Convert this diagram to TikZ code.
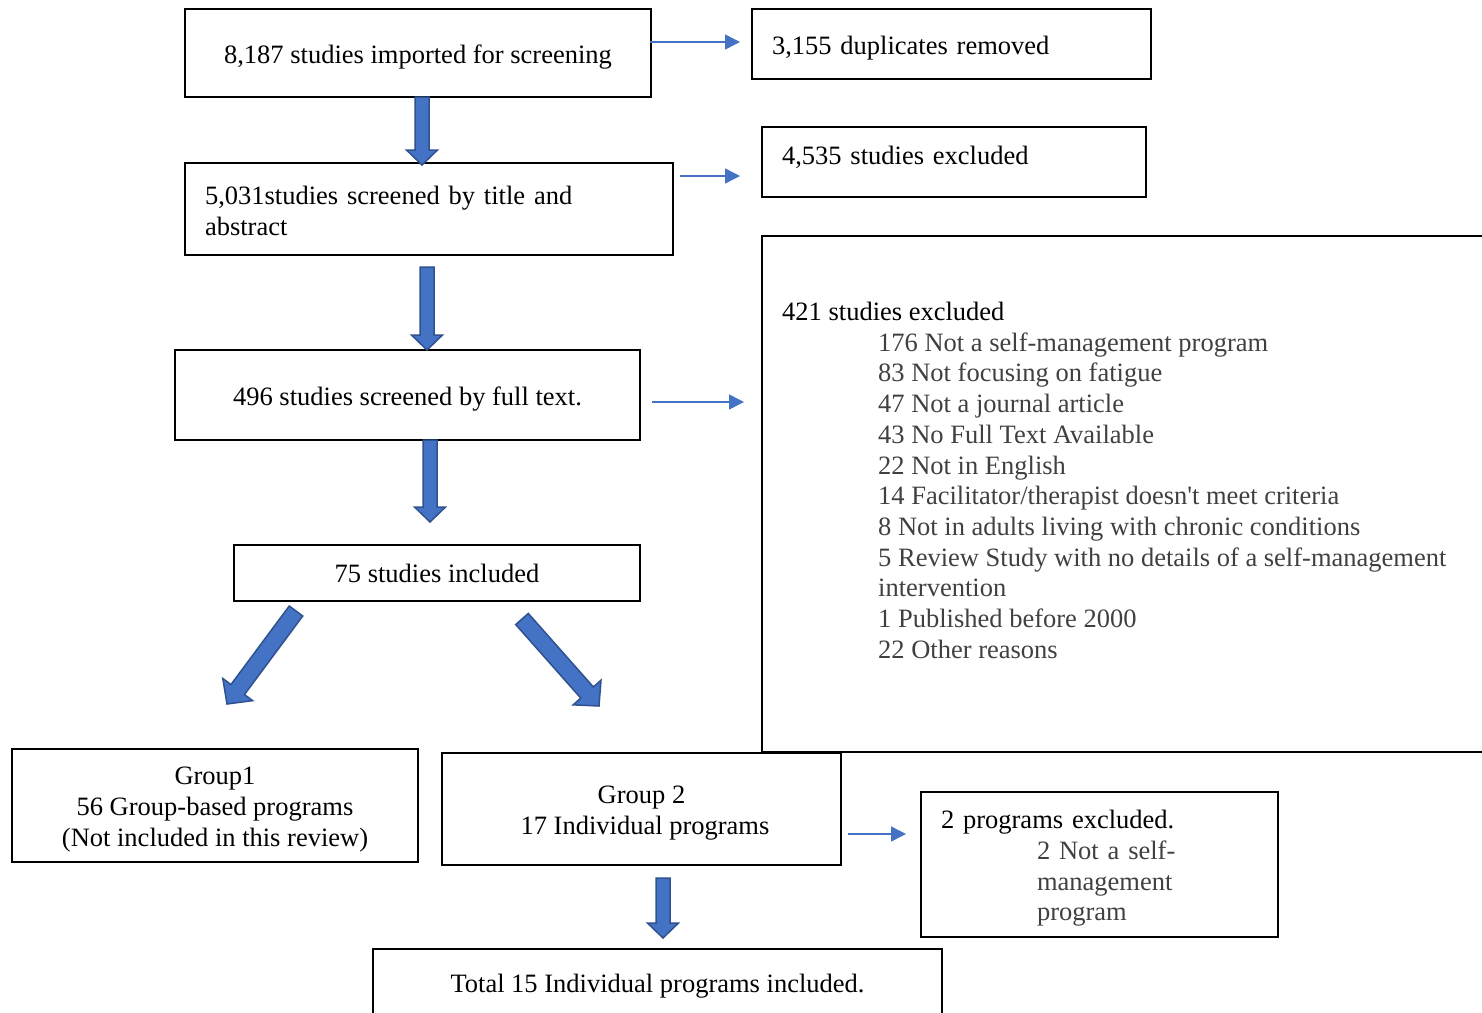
\documentclass[tikz,border=0pt]{standalone}
\usepackage{fontspec}
\setmainfont{Liberation Serif}[Ligatures=TeXOff]
\usetikzlibrary{arrows.meta,calc}
\definecolor{arrowblue}{HTML}{4472C4}
\definecolor{arrowedge}{HTML}{2F528F}
\definecolor{subtext}{HTML}{404040}

\tikzset{
  box/.style={draw=black, line width=1.5pt, inner sep=0pt, font=\fontsize{26.5}{30.7}\selectfont},
  midbox/.style={box, align=center},
  leftbox/.style={box, align=left, inner xsep=20pt},
  listtext/.style={inner sep=0pt, align=left, font=\fontsize{26.5}{30.7}\selectfont},
  thinarrow/.style={draw=arrowblue, line width=1.5pt, -{Triangle[length=15pt,width=15pt]}},
  fatarrow/.style={fill=arrowblue, draw=arrowedge, line width=1.5pt, line join=miter},
}

% block arrow between two named points, #1 = size factor
\newcommand{\bigarrow}[3][1]{%
  \coordinate (neck) at ($(#3)!15pt*#1!(#2)$);
  \draw[fatarrow] ($(#2)!7pt*#1!90:(#3)$) -- ($(neck)!7pt*#1!90:(#3)$)
    -- ($(neck)!15.5pt*#1!90:(#3)$) -- (#3)
    -- ($(neck)!15.5pt*#1!-90:(#3)$) -- ($(neck)!7pt*#1!-90:(#3)$)
    -- ($(#2)!7pt*#1!-90:(#3)$) -- cycle;}
\newcommand{\ind}{\hspace*{96pt}}
\newcommand{\tall}{\rule{0pt}{26pt}}

\begin{document}
\begin{tikzpicture}[x=1pt, y=-1pt]
  \useasboundingbox (0,0) rectangle (1482,1012);
  \clip (0,0) rectangle (1482,1012);

  % boxes
  \node[midbox, minimum width=466, minimum height=88] (import) at (418,53) {\tall 8,187 studies imported for screening};
  \node[leftbox, minimum width=399, minimum height=70, text width=359] (dup) at (951.5,44) {\tall 3,155 duplicates removed};
  \node[leftbox, minimum width=488, minimum height=92, text width=448] (title) at (429,209) {\rule{0pt}{22pt}5,031studies screened by title and\\abstract};
  \node[leftbox, minimum width=384, minimum height=70, text width=344, text depth=22pt] (excla) at (954,162) {\tall 4,535 studies excluded};
  \node[midbox, minimum width=465, minimum height=90] (full) at (407.5,395) {\tall 496 studies screened by full text.};
  \node[box, minimum width=738, minimum height=516] (exclb) at (1131,494) {};
  \node[listtext, anchor=north west] (exclblist) at (782,302) {421 studies excluded\\
    \ind\textcolor{subtext}{176 Not a self-management program}\\
    \ind\textcolor{subtext}{83 Not focusing on fatigue}\\
    \ind\textcolor{subtext}{47 Not a journal article}\\
    \ind\textcolor{subtext}{43 No Full Text Available}\\
    \ind\textcolor{subtext}{22 Not in English}\\
    \ind\textcolor{subtext}{14 Facilitator/therapist doesn't meet criteria}\\
    \ind\textcolor{subtext}{8 Not in adults living with chronic conditions}\\
    \ind\textcolor{subtext}{5 Review Study with no details of a self-management}\\
    \ind\textcolor{subtext}{intervention}\\
    \ind\textcolor{subtext}{1 Published before 2000}\\
    \ind\textcolor{subtext}{22 Other reasons}};
  \node[midbox, minimum width=406, minimum height=56] (incl) at (437,573) {\rule{0pt}{20pt}75 studies included};
  \node[midbox, minimum width=406, minimum height=113] (groupa) at (215,805.5) {\tall Group1\\56 Group-based programs\\(Not included in this review)};
  \node[midbox, minimum width=399, minimum height=112] (groupb) at (641.5,809) {\tall Group 2\\\hspace*{7pt}17 Individual programs};
  \node[leftbox, minimum width=357, minimum height=145, text width=317] (exclc) at (1099.5,864.5) {\tall 2 programs excluded.\\
    \ind\textcolor{subtext}{2 Not a self-}\\
    \ind\textcolor{subtext}{management}\\
    \ind\textcolor{subtext}{program}};
  \node[midbox, minimum width=569, minimum height=71] (total) at (657.5,984.5) {\rule{0pt}{22pt}Total 15 Individual programs included.};

  % arrow ends
  \coordinate (fa1) at (422,97);   \coordinate (ta1) at (422,165);
  \coordinate (fa2) at (427,267);  \coordinate (ta2) at (427,350);
  \coordinate (fa3) at (430,440);  \coordinate (ta3) at (430,522);
  \coordinate (fa4) at (296,611);  \coordinate (ta4) at (227,704);
  \coordinate (fa5) at (522,619);  \coordinate (ta5) at (599,706);
  \coordinate (fa6) at (663,878);  \coordinate (ta6) at (663,938);
  \coordinate (fs1) at (650,42);   \coordinate (ts1) at (740,42);
  \coordinate (fs2) at (680,176);  \coordinate (ts2) at (740,176);
  \coordinate (fs3) at (652,402);  \coordinate (ts3) at (744,402);
  \coordinate (fs4) at (848,834);  \coordinate (ts4) at (906,834);

  % block arrows
  \bigarrow{fa1}{ta1}
  \bigarrow{fa2}{ta2}
  \bigarrow{fa3}{ta3}
  \bigarrow[1.2]{fa4}{ta4}
  \bigarrow[1.2]{fa5}{ta5}
  \bigarrow{fa6}{ta6}

  % side arrows
  \draw[thinarrow] (fs1) -- (ts1);
  \draw[thinarrow] (fs2) -- (ts2);
  \draw[thinarrow] (fs3) -- (ts3);
  \draw[thinarrow] (fs4) -- (ts4);
\end{tikzpicture}
\end{document}
